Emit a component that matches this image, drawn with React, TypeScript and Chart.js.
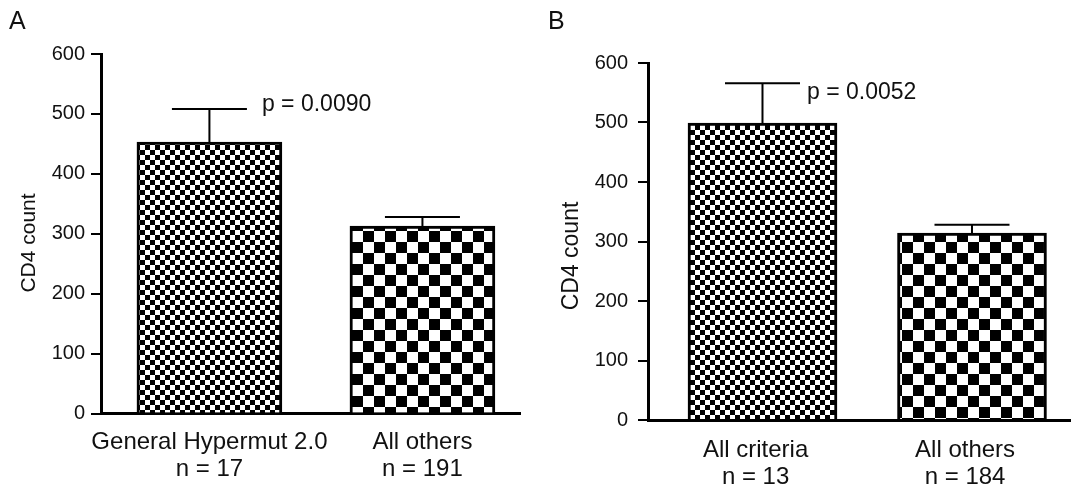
import React, { useEffect, useRef } from 'react';
import { Chart, registerables } from 'chart.js';

Chart.register(...registerables);

// ---------------- data ----------------
const categoriesA: string[][] = [['General Hypermut 2.0', 'n = 17'], ['All others', 'n = 191']];
const meansA: number[] = [453, 313];
const semA: number[] = [55, 15];
const pLabelA = 'p = 0.0090';

const categoriesB: string[][] = [['All criteria', 'n = 13'], ['All others', 'n = 184']];
const meansB: number[] = [499, 314];
const semB: number[] = [67, 14];
const pLabelB = 'p = 0.0052';

const yTitle = 'CD4 count';
const yMin = 0;
const yMax = 600;
const yStep = 100;

// ---------------- layout ----------------
const W = 1071;
const H = 488;
const FONT = "'Liberation Sans', Arial, Helvetica, sans-serif";
const INK = '#111';

type Layout = {
  letter: string; letterX: number; letterY: number;
  padLeft: number; padRight: number; top: number; yWidth: number; xHeight: number;
  xMin: number; xMax: number; barThickness: number;
  titleX: number; titleY: number; titleSize: number;
  tickPad: number; labelPad: number; labelShift: number;
  pDx: number; pDy: number;
};

const layoutA: Layout = {
  letter: 'A', letterX: 9, letterY: 29,
  padLeft: 0, padRight: W - 520, top: 54, yWidth: 101, xHeight: 74.5,
  xMin: -0.509, xMax: 1.458, barThickness: 145,
  titleX: 29, titleY: 243, titleSize: 21,
  tickPad: 6, labelPad: 15.5, labelShift: 0,
  pDx: 15, pDy: -4,
};

const layoutB: Layout = {
  letter: 'B', letterX: 548, letterY: 29,
  padLeft: 540, padRight: 0, top: 63, yWidth: 108, xHeight: 68,
  xMin: -0.5465, xMax: 1.4726, barThickness: 149,
  titleX: 572, titleY: 256, titleSize: 23,
  tickPad: 10, labelPad: 16.5, labelShift: -0.033,
  pDx: 7, pDy: 9,
};

function checker(cell: number): CanvasPattern | string {
  const c = document.createElement('canvas');
  c.width = cell * 2;
  c.height = cell * 2;
  const g = c.getContext('2d');
  if (!g) return '#888';
  g.fillStyle = '#fff';
  g.fillRect(0, 0, cell * 2, cell * 2);
  g.fillStyle = '#000';
  g.fillRect(0, 0, cell, cell);
  g.fillRect(cell, cell, cell, cell);
  return g.createPattern(c, 'repeat') || '#888';
}

function makeChart(
  canvas: HTMLCanvasElement,
  categories: string[][],
  means: number[],
  sems: number[],
  pLabel: string,
  L: Layout
) {
  const fine = checker(5);
  const coarse = checker(11);
  const capHalf = 37.5;

  const overlay = {
    id: 'overlay' + L.letter,
    afterDatasetsDraw(chart: any) {
      const ctx = chart.ctx as CanvasRenderingContext2D;
      const meta = chart.getDatasetMeta(0);
      const ys = chart.scales.y;
      ctx.save();
      ctx.strokeStyle = '#000';
      ctx.lineWidth = 2;
      meta.data.forEach((el: any, i: number) => {
        const yTop = ys.getPixelForValue(means[i] + sems[i]);
        ctx.beginPath();
        ctx.moveTo(el.x, el.y);
        ctx.lineTo(el.x, yTop);
        ctx.moveTo(el.x - capHalf, yTop);
        ctx.lineTo(el.x + capHalf, yTop);
        ctx.stroke();
      });
      const first = meta.data[0];
      const yCap = ys.getPixelForValue(means[0] + sems[0]);
      ctx.fillStyle = INK;
      ctx.font = `23px ${FONT}`;
      ctx.textAlign = 'left';
      ctx.textBaseline = 'middle';
      ctx.fillText(pLabel, first.x + capHalf + L.pDx, yCap + L.pDy);
      ctx.restore();
    },
    afterDraw(chart: any) {
      const ctx = chart.ctx as CanvasRenderingContext2D;
      ctx.save();
      ctx.fillStyle = INK;
      ctx.font = `25px ${FONT}`;
      ctx.textAlign = 'left';
      ctx.textBaseline = 'alphabetic';
      ctx.fillText(L.letter, L.letterX, L.letterY);
      ctx.translate(L.titleX, L.titleY);
      ctx.rotate(-Math.PI / 2);
      ctx.font = `${L.titleSize}px ${FONT}`;
      ctx.textAlign = 'center';
      ctx.textBaseline = 'middle';
      ctx.fillText(yTitle, 0, 0);
      ctx.restore();
    },
  };

  return new Chart(canvas, {
    type: 'bar',
    data: {
      datasets: [
        {
          data: means.map((m, i) => ({ x: i, y: m })) as any,
          backgroundColor: [fine, coarse] as any,
          borderColor: '#000',
          borderWidth: 3,
          borderSkipped: 'bottom',
          barThickness: L.barThickness,
        },
      ],
    },
    options: {
      responsive: false,
      animation: false,
      devicePixelRatio: 1,
      layout: { padding: { left: L.padLeft, right: L.padRight, top: L.top, bottom: 0 } },
      plugins: { legend: { display: false }, tooltip: { enabled: false }, title: { display: false } },
      scales: {
        x: {
          type: 'linear',
          offset: false,
          min: L.xMin,
          max: L.xMax,
          grid: { display: false, drawTicks: false, offset: false },
          border: { display: true, color: '#000', width: 3 },
          afterBuildTicks: (s: any) => {
            s.ticks = categories.map((_, i) => ({ value: i + L.labelShift }));
          },
          afterFit: (s: any) => {
            s.height = L.xHeight;
          },
          ticks: {
            autoSkip: false,
            maxRotation: 0,
            minRotation: 0,
            padding: L.labelPad,
            color: INK,
            font: { family: FONT, size: 24, lineHeight: 1.125 },
            callback: (_v: any, i: number) => categories[i],
          },
        },
        y: {
          min: yMin,
          max: yMax,
          ticks: {
            stepSize: yStep,
            padding: L.tickPad,
            color: INK,
            font: { family: FONT, size: 20 },
          },
          grid: {
            display: true,
            drawOnChartArea: false,
            drawTicks: true,
            tickLength: 10,
            color: '#000',
            lineWidth: 2,
          },
          border: { display: true, color: '#000', width: 3 },
          afterFit: (s: any) => {
            s.width = L.yWidth;
          },
        },
      },
    } as any,
    plugins: [overlay],
  });
}

export default function App() {
  const refA = useRef<HTMLCanvasElement>(null);
  const refB = useRef<HTMLCanvasElement>(null);

  useEffect(() => {
    if (!refA.current || !refB.current) return;
    const a = makeChart(refA.current, categoriesA, meansA, semA, pLabelA, layoutA);
    const b = makeChart(refB.current, categoriesB, meansB, semB, pLabelB, layoutB);
    return () => {
      a.destroy();
      b.destroy();
    };
  }, []);

  const canvasStyle: React.CSSProperties = {
    position: 'absolute',
    left: 0,
    top: 0,
    width: W,
    height: H,
  };

  return (
    <div style={{ position: 'absolute', left: 0, top: 0, width: W, height: H, background: '#fff', overflow: 'hidden' }}>
      <canvas ref={refA} width={W} height={H} style={canvasStyle} />
      <canvas ref={refB} width={W} height={H} style={canvasStyle} />
    </div>
  );
}
